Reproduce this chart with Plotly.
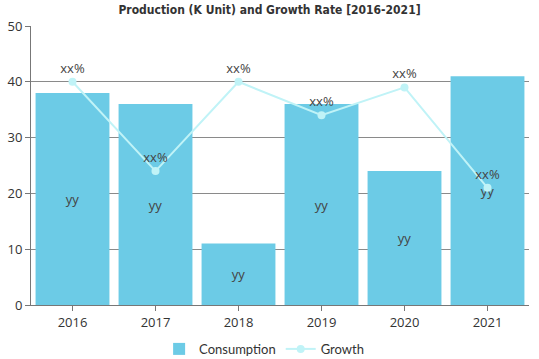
import plotly.graph_objects as go

years = ["2016", "2017", "2018", "2019", "2020", "2021"]
consumption = [38, 36, 11, 36, 24, 41]
growth = [40, 24, 40, 34, 39, 21]
bar_labels = ["yy"] * 6
line_labels = ["xx%"] * 6

fig = go.Figure()
fig.add_trace(go.Bar(
    x=years, y=consumption, name="Consumption",
    marker=dict(color="#6ccbe6", line=dict(width=0)),
    text=bar_labels, textposition="inside", insidetextanchor="middle",
    textfont=dict(color="#444444", size=13, family="Open Sans"),
))
fig.add_trace(go.Scatter(
    x=years, y=growth, name="Growth", mode="lines+markers+text",
    line=dict(color="#c0f3f7", width=2),
    marker=dict(color="#c0f3f7", size=8),
    text=line_labels, textposition="top center",
    textfont=dict(color="#444444", size=13, family="Open Sans"),
))
fig.update_layout(
    width=539, height=359,
    margin=dict(l=31, r=10, t=26, b=54, autoexpand=False),
    paper_bgcolor="white", plot_bgcolor="white",
    bargap=0.11,
    title=dict(text="<b>Production (K Unit) and Growth Rate [2016-2021]</b>",
               x=0.5, xanchor="center", y=0.985, yanchor="top",
               font=dict(family="DejaVu Sans Condensed", size=12, color="#333333")),
    showlegend=True,
    legend=dict(orientation="h", xref="container", x=0.49, xanchor="center", yref="container",
                y=0.028, yanchor="middle", itemwidth=30,
                font=dict(family="Lato", size=13, color="#333333")),
    font=dict(family="Open Sans", color="#333333"),
)
fig.update_yaxes(range=[0, 50], dtick=10, showgrid=True, gridcolor="#8a8a8a", gridwidth=1,
                 showline=True, linecolor="#777777", ticks="outside", ticklen=5,
                 tickcolor="#777777", tickfont=dict(size=13, color="#333333"),
                 zeroline=False, automargin=False)
fig.update_xaxes(showline=True, linecolor="#777777", ticks="outside", ticklen=5,
                 tickcolor="#777777", tickfont=dict(size=13, color="#333333"),
                 automargin=False)
fig.write_html("out.html", config={"displayModeBar": False},
               post_script="document.body.style.margin='0';document.body.style.padding='0';")
